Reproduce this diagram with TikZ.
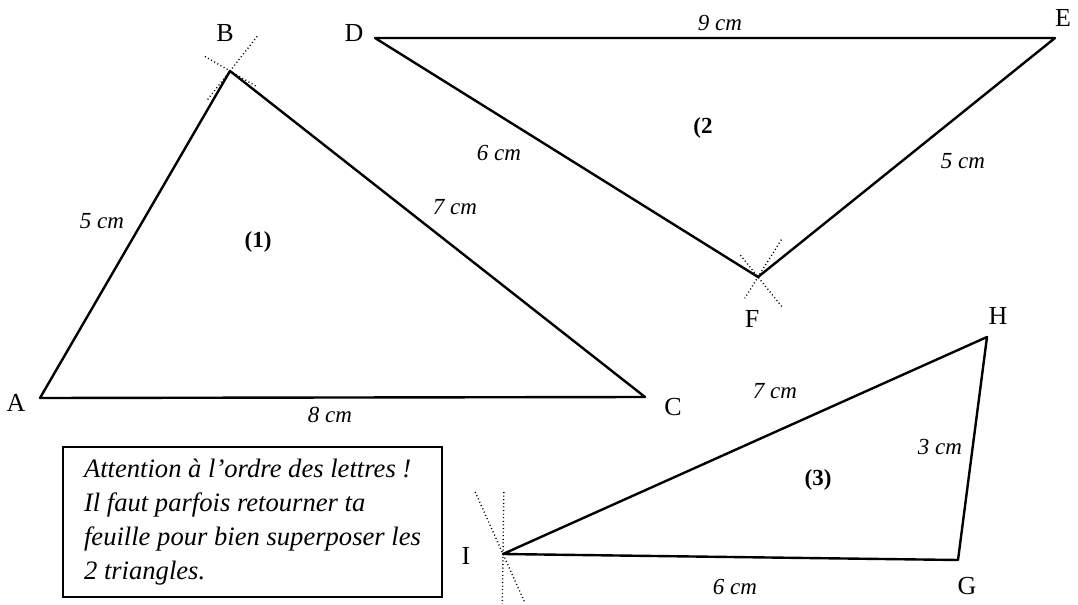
\documentclass[tikz,border=0pt]{standalone}
\usepackage{fontspec}
\setmainfont{Liberation Serif}
\usepackage{tikz}
\usetikzlibrary{positioning,calc}
\tikzset{
  side/.style={line width=1.2pt, line cap=round, line join=round},
  arcmark/.style={line width=0.7pt, dash pattern=on 0.5pt off 1.3pt},
  vertexlbl/.style={font=\fontsize{13}{15}\selectfont, inner sep=0pt},
  lenlbl/.style={font=\fontsize{11.5}{13}\selectfont\itshape, inner sep=0pt},
  numlbl/.style={font=\fontsize{11.5}{13}\selectfont\bfseries, inner sep=0pt},
  notebox/.style={draw, line width=1pt, align=left, minimum width=189.5pt, minimum height=75pt, inner xsep=8.5pt, inner ysep=0pt, font=\fontsize{13.3}{17}\selectfont\itshape}
}

\begin{document}
\begin{tikzpicture}[x=0.5pt, y=-0.5pt]
\useasboundingbox (0,0) rectangle (1078,605);
% triangle (1)
\coordinate (A) at (40,398);
\coordinate (B) at (230,71);
\coordinate (C) at (645,397);
\draw[side] (A) -- (B) -- (C) -- cycle;
\draw[arcmark] ($(B)!22pt!90:(C)$) -- ($(B)!19pt!-90:(C)$);
\draw[arcmark] ($(B)!14.5pt!-90:(A)$) -- ($(B)!16pt!90:(A)$);
\node[vertexlbl] (lA) at (16,403) {A};
\node[vertexlbl] (lB) at (225,33) {B};
\node[vertexlbl] (lC) at (673,407) {C};
\node[lenlbl] (ab) at (102,221) {5 cm};
\node[lenlbl] (bc) at (455,207) {7 cm};
\node[lenlbl] (ac) at (330,415) {8 cm};
\node[numlbl] (t1) at (258,242) {(1)};
% triangle (2)
\coordinate (D) at (375,38);
\coordinate (E) at (1055,38);
\coordinate (F) at (758,277);
\draw[side] (D) -- (E) -- (F) -- cycle;
\draw[arcmark] ($(F)!22pt!-90:(D)$) -- ($(F)!12.5pt!90:(D)$);
\draw[arcmark] ($(F)!14pt!90:(E)$) -- ($(F)!20pt!-90:(E)$);
\node[vertexlbl] (lD) at (354,33) {D};
\node[vertexlbl] (lE) at (1063,18) {E};
\node[vertexlbl] (lF) at (752,319) {F};
\node[lenlbl] (de) at (720,23) {9 cm};
\node[lenlbl] (df) at (499,153) {6 cm};
\node[lenlbl] (ef) at (963,161) {5 cm};
\node[numlbl] (t2) at (703,128) {(2};
% triangle (3)
\coordinate (G) at (958,560);
\coordinate (H) at (987,337);
\coordinate (I) at (503,554);
\draw[side] (I) -- (H) -- (G) -- cycle;
\draw[arcmark] ($(I)!34pt!90:(H)$) -- ($(I)!26pt!-90:(H)$);
\draw[arcmark] ($(I)!31pt!90:(G)$) -- ($(I)!25pt!-90:(G)$);
\node[vertexlbl] (lG) at (967,586) {G};
\node[vertexlbl] (lH) at (998,316) {H};
\node[vertexlbl] (lI) at (466,556) {I};
\node[lenlbl] (ih) at (775,391) {7 cm};
\node[lenlbl] (gh) at (940,447) {3 cm};
\node[lenlbl] (ig) at (735,587) {6 cm};
\node[numlbl] (t3) at (818,480) {(3)};
% note
\node[notebox] (note) at (252.5,522) {Attention à l’ordre des lettres !\\
Il faut parfois retourner ta\\
feuille pour bien superposer les\\
2 triangles.};
\end{tikzpicture}
\end{document}
